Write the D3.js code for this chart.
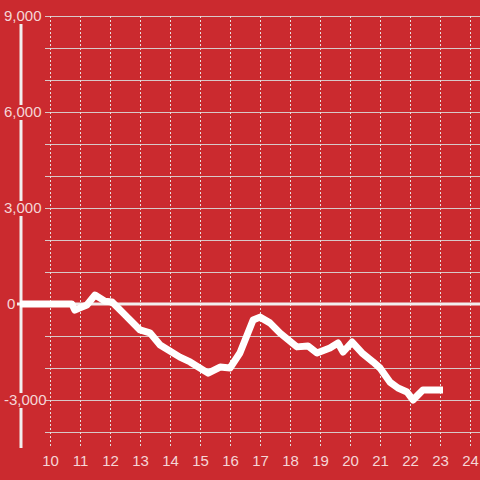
<!DOCTYPE html>
<html>
<head>
<meta charset="utf-8">
<script src="https://cdn.jsdelivr.net/npm/d3@7"></script>
<style>
  html, body { margin: 0; padding: 0; background: #cb2a2f; }
  svg { display: block; font-family: "Liberation Sans", Arial, sans-serif; }
</style>
</head>
<body>
<div id="chart"></div>
<script>
// hours of the day (decimal) and running value
const hours = [9.0, 10.73, 10.83, 11.0, 11.23, 11.5, 11.83, 12.07, 12.5, 13.0, 13.33, 13.67,
  14.33, 14.67, 15.27, 15.67, 16.0, 16.33, 16.77, 17.0, 17.33, 17.67, 18.23, 18.6, 18.9,
  19.33, 19.6, 19.77, 20.07, 20.4, 20.77, 21.0, 21.33, 21.6, 21.9, 22.1, 22.33, 22.43, 23.1];
const values = [0, 0, -190, -120, -30, 280, 90, 60, -340, -810, -900, -1280,
  -1660, -1810, -2160, -1970, -2000, -1530, -500, -410, -590, -910, -1340, -1310, -1530,
  -1375, -1220, -1500, -1190, -1530, -1810, -2000, -2440, -2625, -2750, -3000, -2780, -2690, -2690];

const yLabelTicks = [9000, 6000, 3000, 0, -3000];
const yGridTicks = d3.range(-4000, 9001, 1000);
const xTicks = d3.range(10, 25);

const width = 480, height = 480;
const bg = "#cb2a2f";
const textColor = "#f5d6d7";

const svg = d3.select("#chart").append("svg")
  .attr("width", width)
  .attr("height", height);

svg.append("rect").attr("width", width).attr("height", height).attr("fill", bg);

const x = d3.scaleLinear().domain([9, 24.333]).range([20, 480]);
const y = d3.scaleLinear().domain([-4500, 9000]).range([448, 16]);

// horizontal grid
svg.append("g").selectAll("line")
  .data(yGridTicks.filter(d => d !== 0))
  .join("line")
  .attr("x1", 45).attr("x2", width)
  .attr("y1", d => y(d) + 0.5).attr("y2", d => y(d) + 0.5)
  .attr("stroke", "#d8c8c8")
  .attr("stroke-width", 1.2);

// vertical dashed grid
svg.append("g").selectAll("line")
  .data(xTicks)
  .join("line")
  .attr("x1", d => x(d) + 0.5).attr("x2", d => x(d) + 0.5)
  .attr("y1", y(9000)).attr("y2", y(-4500))
  .attr("stroke", "#e8dede")
  .attr("stroke-width", 1)
  .attr("stroke-dasharray", "2,2");

// y axis line
svg.append("line")
  .attr("x1", 21).attr("x2", 21)
  .attr("y1", y(9000)).attr("y2", y(-4500))
  .attr("stroke", "#f2eeee")
  .attr("stroke-width", 3);

// y labels with background to cut the axis
const yl = svg.append("g").selectAll("g")
  .data(yLabelTicks)
  .join("g")
  .attr("transform", d => `translate(0,${y(d)})`);

yl.filter(d => d !== 0).append("rect")
  .attr("x", 14).attr("y", -7)
  .attr("width", 10).attr("height", 15)
  .attr("fill", bg);

yl.append("text")
  .attr("x", d => d === 0 ? 7 : 4)
  .attr("dy", "0.36em")
  .attr("fill", textColor)
  .style("font-size", "15px")
  .text(d => d3.format(",")(d).replace("−", "-"));

// zero line
svg.append("line")
  .attr("x1", 17).attr("x2", width)
  .attr("y1", y(0)).attr("y2", y(0))
  .attr("stroke", "#f2eeee")
  .attr("stroke-width", 3);

// x labels
const xAxis = d3.axisBottom(x).tickValues(xTicks).tickSize(0).tickPadding(0);
const gx = svg.append("g")
  .attr("transform", `translate(0, 455)`)
  .call(xAxis);
gx.select(".domain").remove();
gx.selectAll("text")
  .attr("fill", textColor)
  .style("font-size", "15px")
  .style("font-family", "'Liberation Sans', Arial, sans-serif");

// data line
const data = hours.map((h, i) => ({ h: h, v: values[i] }));
svg.append("path")
  .datum(data)
  .attr("fill", "none")
  .attr("stroke", "#ffffff")
  .attr("stroke-width", 7)
  .attr("stroke-linejoin", "round")
  .attr("d", d3.line().x(d => x(d.h)).y(d => y(d.v)));
</script>
</body>
</html>
